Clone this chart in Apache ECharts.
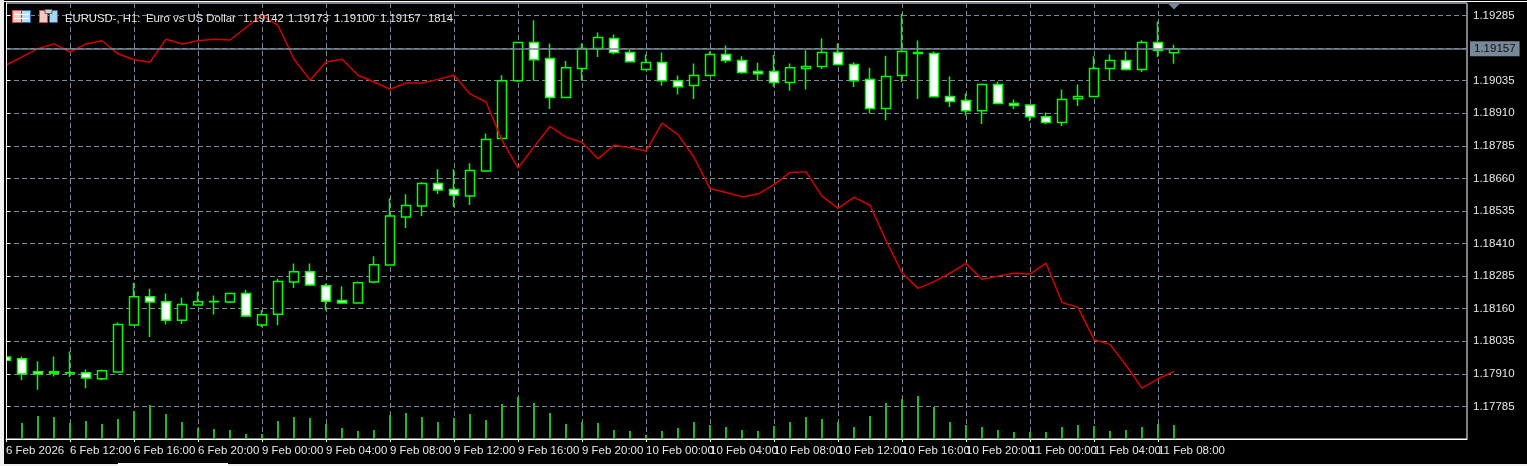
<!DOCTYPE html>
<html>
<head>
<meta charset="utf-8">
<script src="https://cdn.jsdelivr.net/npm/echarts@6/dist/echarts.min.js"></script>
<style>html,body{margin:0;padding:0;background:#000;overflow:hidden}#c{width:1527px;height:466px}</style>
</head>
<body>
<div id="c"></div>
<script>
const opens=[1.17975,1.17968,1.17918,1.17918,1.17914,1.17914,1.17891,1.17917,1.18097,1.18206,
1.18187,1.18116,1.18174,1.18187,1.18186,1.18218,1.18097,1.18139,1.18262,1.18302,
1.18248,1.18191,1.18182,1.18262,1.18328,1.18512,1.18554,1.18640,1.18617,1.18592,
1.18688,1.18813,1.19035,1.19181,1.19120,1.18970,1.19082,1.19158,1.19197,1.19143,
1.19078,1.19105,1.19035,1.19016,1.19055,1.19135,1.19112,1.19070,1.19070,1.19028,
1.19082,1.19089,1.19143,1.19097,1.19039,1.18928,1.19055,1.19139,1.19139,1.18974,
1.18959,1.18920,1.19020,1.18947,1.18942,1.18897,1.18874,1.18966,1.18974,1.19082,
1.19112,1.19078,1.19181,1.19142];
const closes=[1.17962,1.17909,1.17909,1.17912,1.17913,1.17894,1.17922,1.18099,1.18206,1.18186,
1.18116,1.18176,1.18187,1.18188,1.18218,1.18132,1.18137,1.18264,1.18302,1.18251,
1.18189,1.18182,1.18260,1.18329,1.18516,1.18556,1.18640,1.18615,1.18596,1.18690,
1.18809,1.19035,1.19181,1.19115,1.18970,1.19085,1.19158,1.19201,1.19143,1.19108,
1.19105,1.19035,1.19012,1.19055,1.19135,1.19112,1.19066,1.19062,1.19028,1.19085,
1.19089,1.19143,1.19097,1.19035,1.18928,1.19051,1.19147,1.19143,1.18973,1.18955,
1.18920,1.19020,1.18947,1.18940,1.18897,1.18874,1.18963,1.18974,1.19082,1.19112,
1.19078,1.19181,1.19151,1.19157];
const highs=[1.17977,1.17977,1.17958,1.17977,1.17996,1.17927,1.17927,1.18107,1.18260,1.18237,
1.18218,1.18202,1.18225,1.18211,1.18218,1.18233,1.18154,1.18275,1.18333,1.18333,
1.18256,1.18246,1.18264,1.18361,1.18584,1.18599,1.18645,1.18695,1.18695,1.18718,
1.18832,1.19056,1.19181,1.19267,1.19178,1.19110,1.19178,1.19220,1.19212,1.19154,
1.19135,1.19143,1.19055,1.19101,1.19147,1.19170,1.19129,1.19104,1.19133,1.19101,
1.19152,1.19198,1.19178,1.19106,1.19085,1.19131,1.19292,1.19189,1.19147,1.19051,
1.18986,1.19024,1.19032,1.18963,1.18942,1.18913,1.19001,1.19020,1.19129,1.19135,
1.19148,1.19190,1.19262,1.19173];
const lows=[1.17958,1.17885,1.17849,1.17900,1.17898,1.17855,1.17885,1.17917,1.18097,1.18051,
1.18099,1.18101,1.18174,1.18138,1.18182,1.18128,1.18090,1.18096,1.18239,1.18247,
1.18154,1.18182,1.18182,1.18258,1.18326,1.18470,1.18516,1.18600,1.18550,1.18558,
1.18688,1.18813,1.19030,1.19035,1.18926,1.18970,1.19035,1.19126,1.19135,1.19108,
1.19074,1.19015,1.18982,1.18965,1.19055,1.19103,1.19062,1.19035,1.19012,1.18996,
1.19001,1.19080,1.19093,1.19011,1.18909,1.18883,1.19030,1.18965,1.18970,1.18934,
1.18901,1.18869,1.18947,1.18926,1.18880,1.18869,1.18861,1.18938,1.18974,1.19035,
1.19074,1.19068,1.19126,1.19100];
const redLine=[1.19094,1.19126,1.19158,1.19176,1.19145,1.19176,1.19188,1.19138,1.19115,1.19106,
1.19194,1.19176,1.19188,1.19194,1.19191,1.19239,1.19286,1.19247,1.19118,1.19037,
1.19107,1.19117,1.19056,1.19030,1.19002,1.19026,1.19026,1.19040,1.19056,1.18984,
1.18953,1.18806,1.18700,1.18781,1.18860,1.18818,1.18799,1.18735,1.18787,1.18778,
1.18765,1.18872,1.18828,1.18741,1.18621,1.18606,1.18589,1.18600,1.18636,1.18683,
1.18685,1.18592,1.18545,1.18587,1.18557,1.18422,1.18298,1.18238,1.18264,1.18296,
1.18334,1.18273,1.18285,1.18296,1.18293,1.18335,1.18184,1.18165,1.18041,1.18023,
1.17943,1.17855,1.17891,1.17919];
const volumes=[1820,2080,2990,2860,2080,2340,1950,2600,3640,4420,
3250,2210,1430,1300,1170,650,650,2340,2860,2730,
1950,1430,1040,1170,3120,3380,2860,2210,2730,3250,
2470,4550,5460,4680,3380,1950,2210,2080,1170,1040,
520,1040,1430,2210,1820,1560,1170,1040,1690,2210,
2860,2600,2210,1560,2990,4680,5200,5590,4160,2210,
1820,1560,1170,910,910,910,1560,1820,1690,1040,
1170,1560,1950,1814];
const xTickLabels=['6 Feb 2026','6 Feb 12:00','6 Feb 16:00','6 Feb 20:00','9 Feb 00:00','9 Feb 04:00','9 Feb 08:00','9 Feb 12:00','9 Feb 16:00','9 Feb 20:00','10 Feb 00:00','10 Feb 04:00','10 Feb 08:00','10 Feb 12:00','10 Feb 16:00','10 Feb 20:00','11 Feb 00:00','11 Feb 04:00','11 Feb 08:00'];
const xTickEvery=4;
const bidPrice=1.19157;
const askMarker=1.1932;
const headerParts=['EURUSD-, H1:','Euro vs US Dollar','1.19142','1.19173','1.19100','1.19157','1814'];
const headerLefts=[65,146,243,288,334,380,428];

const GRID='#778899', FONT='"Liberation Sans", Arial, sans-serif', TXT='#e6e6e6';
const xTicks=xTickLabels.map((_,i)=>i*xTickEvery);
const chart=echarts.init(document.getElementById('c'),null,{renderer:'canvas'});
const r=(x,y,w,h,fill,stroke)=>({type:'rect',silent:true,z:10,shape:{x,y,width:w,height:h},style:{fill,stroke:stroke||null,lineWidth:1}});
const xLabelStyle={show:true,align:'left',margin:6,color:TXT,fontFamily:FONT,fontSize:11.5,
  showMinLabel:true,showMaxLabel:true,hideOverlap:false,
  formatter:v=>xTickLabels[Math.round(v/xTickEvery)]};
chart.setOption({
  animation:false,
  backgroundColor:'#000',
  graphic:[
    r(4,3,2,436,'#000000'),
    r(6,3,1,436,'#ffffff'),
    r(0,0,4,466,'#f0f0f0'),
    r(0,464,1527,2,'#f0f0f0'),
    r(118,463,110,3,'#ffffff'),
    r(4,1,1523,1,'#ffffff'),
    // window icons
    r(12.5,10.5,9,12,'#f7c9c2','#e04a38'),
    r(21.5,10.5,9,12,'#bcdcf4','#1f6fb8'),
    r(14,14,15,1,'#ffffff'),
    r(14,18,15,1,'#ffffff'),
    r(39.5,10.5,8,12,'#f7c9c2','#e04a38'),
    r(49.5,10.5,8,12,'#a8d4f0','#1f6fb8'),
    r(45,9.5,7,4,'#d0d0d0','#606060'),
    ...headerParts.map((t,i)=>({type:'text',silent:true,z:10,x:headerLefts[i],y:19,
      style:{text:t,fill:TXT,font:'11.3px '+FONT,textVerticalAlign:'middle'}}))
  ],
  grid:{left:6,top:3,width:1461,height:436,show:true,backgroundColor:'#000',borderColor:'#fff',borderWidth:1},
  xAxis:[
    {type:'value',min:0,max:91.3125,interval:2,position:'bottom',
      axisLine:{show:true,onZero:false,lineStyle:{color:'#fff',width:1}},
      axisTick:{show:true,length:3,customValues:xTicks,lineStyle:{color:'#fff'}},
      axisLabel:{...xLabelStyle,customValues:xTicks.filter((_,i)=>i%2===0)},
      splitLine:{show:true,lineStyle:{color:GRID,type:[5,3],width:1}}},
    {type:'value',min:0,max:91.3125,interval:2,position:'bottom',
      axisLine:{show:false,onZero:false},
      axisTick:{show:false},
      axisLabel:{...xLabelStyle,customValues:xTicks.filter((_,i)=>i%2===1)},
      splitLine:{show:false}}
  ],
  yAxis:[
    {type:'value',position:'right',min:1.1766,max:1.19333,interval:0.00125,
      axisLine:{show:true,lineStyle:{color:'#fff'}},
      axisTick:{show:true,length:4,lineStyle:{color:'#fff'}},
      axisLabel:{margin:6,color:TXT,fontFamily:FONT,fontSize:11.5,showMinLabel:false,showMaxLabel:false,
        formatter:v=>Math.abs(v-bidPrice)<0.0002?'':v.toFixed(5)},
      splitLine:{show:true,lineStyle:{color:GRID,type:[5,3],width:1}}},
    {type:'value',min:0,max:56680,show:false,splitLine:{show:false}}
  ],
  series:[
    {type:'bar',yAxisIndex:1,barWidth:2,silent:true,clip:true,itemStyle:{color:'#1cc01c'},
      data:volumes.map((v,i)=>[i,v])},
    {type:'candlestick',barWidth:10,silent:true,clip:true,
      itemStyle:{color:'#000',color0:'#fff',borderColor:'#00ff00',borderColor0:'#00ff00',borderWidth:1.5},
      data:opens.map((o,i)=>[i,o,closes[i],lows[i],highs[i]])},
    {type:'line',symbol:'none',silent:true,lineStyle:{color:'#d60000',width:1.5},
      data:redLine.map((v,i)=>[i,v]),
      markLine:{silent:true,symbol:'none',animation:false,precision:5,
        lineStyle:{color:GRID,type:'solid',width:1.5},
        label:{show:true,position:'end',distance:3,formatter:()=>bidPrice.toFixed(5),backgroundColor:GRID,color:'#111',fontFamily:FONT,fontSize:11.5,padding:[2,4,1,4]},
        data:[{yAxis:bidPrice}]},
      markPoint:{silent:true,symbol:'triangle',symbolRotate:180,symbolSize:[12,6],itemStyle:{color:GRID},label:{show:false},
        data:[{coord:[opens.length-1,askMarker]}]}
    }
  ]
});
</script>
</body>
</html>
